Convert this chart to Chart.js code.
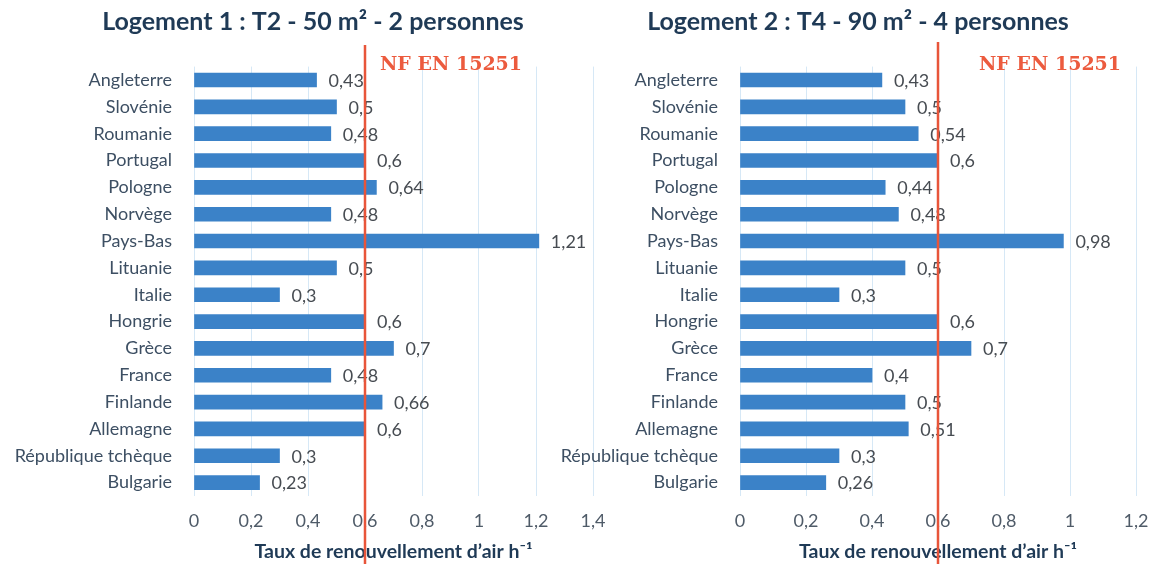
<!DOCTYPE html>
<html><head><meta charset="utf-8">
<script src="https://cdn.jsdelivr.net/npm/chart.js@4"></script>
<style>
html,body{margin:0;padding:0;background:#fff;width:1155px;height:564px;overflow:hidden;position:relative;}
canvas{position:absolute;top:0;}
#c1{left:0;}
#c2{left:550px;}
</style></head>
<body>
<canvas id="c1" width="620" height="564"></canvas>
<canvas id="c2" width="616" height="564"></canvas>
<script>
const countries = ["Angleterre","Slovénie","Roumanie","Portugal","Pologne","Norvège","Pays-Bas","Lituanie","Italie","Hongrie","Grèce","France","Finlande","Allemagne","République tchèque","Bulgarie"];
const logement1 = [0.43,0.5,0.48,0.6,0.64,0.48,1.21,0.5,0.3,0.6,0.7,0.48,0.66,0.6,0.3,0.23];
const logement2 = [0.43,0.5,0.54,0.6,0.44,0.48,0.98,0.5,0.3,0.6,0.7,0.4,0.5,0.51,0.3,0.26];
const titles = ["Logement 1 : T2 - 50 m² - 2 personnes","Logement 2 : T4 - 90 m² - 4 personnes"];
const normValue = [0.6];
const normLabel = "NF EN 15251";
const axisTitle = "Taux de renouvellement d’air h⁻¹";
const xMax = [1.4, 1.2];

const FONT = "Lato, 'Open Sans', sans-serif";
const fmt = v => String(v).replace('.', ',');

const overlay = {
  id:'overlay',
  afterDraw(chart, args, opts){
    const ctx = chart.ctx;
    ctx.save();
    ctx.font = "bold 25px " + FONT;
    ctx.fillStyle = '#1f3a56';
    ctx.textAlign = 'center';
    ctx.textBaseline = 'middle';
    ctx.fillText(opts.title, opts.titleX, 22);
    ctx.restore();
  },
  afterDatasetsDraw(chart, args, opts){
    const ctx = chart.ctx;
    const meta = chart.getDatasetMeta(0);
    const data = chart.data.datasets[0].data;
    ctx.save();
    ctx.font = "18px " + FONT;
    ctx.fillStyle = '#474c52';
    ctx.textBaseline = 'middle';
    ctx.textAlign = 'left';
    meta.data.forEach((bar, i) => {
      ctx.fillText(fmt(data[i]), bar.x + 12, bar.y + 1);
    });
    const x = chart.scales.x.getPixelForValue(normValue[0]);
    ctx.strokeStyle = '#e8553a';
    ctx.lineWidth = 2.5;
    ctx.beginPath();
    ctx.moveTo(x, opts.lineTop);
    ctx.lineTo(x, chart.height);
    ctx.stroke();
    ctx.font = "bold 19px 'DejaVu Serif', serif";
    ctx.fillStyle = '#ec5b3e';
    ctx.textBaseline = 'middle';
    ctx.fillText(normLabel, x + opts.labelOffset, 65);
    ctx.restore();
  }
};

function makeChart(id, values, title, max, titleX, yWidth, padRight, lineTop, labelOffset){
  return new Chart(document.getElementById(id), {
    type:'bar',
    data:{ labels: countries, datasets:[{ data: values,
      backgroundColor: (ctx) => {
        const el = ctx.element;
        if(!el || el.y === undefined) return '#3b82c8';
        const c = ctx.chart.ctx;
        const h = 14;
        const g = c.createLinearGradient(0, el.y - h/2, 0, el.y + h/2);
        g.addColorStop(0, '#5a9de0');
        g.addColorStop(0.5, '#3a82cc');
        g.addColorStop(1, '#2f71b8');
        return g;
      },
      borderWidth:0, barThickness:14 }] },
    options:{
      indexAxis:'y', responsive:false, animation:false,
      layout:{ padding:{ left:0, right:padRight, top:66.6, bottom:1 } },
      plugins:{
        legend:{display:false}, tooltip:{enabled:false}, title:{display:false},
        overlay:{ lineTop: lineTop, labelOffset: labelOffset, title: title, titleX: titleX }
      },
      scales:{
        x:{ min:0, max:max,
          ticks:{ stepSize:0.2, color:'#4f5b68', font:{family:FONT, size:18}, padding:14,
            callback: v => fmt(Math.round(v*10)/10) },
          grid:{ color:'#d6e8f6', drawTicks:false },
          border:{ display:false },
          title:{ display:true, text:axisTitle, color:'#1f3a56',
            font:{family:FONT, size:19.5, weight:'bold'}, padding:{top:-6, bottom:0} },
          afterFit: s => { s.paddingLeft = 0; s.paddingRight = 0; }
        },
        y:{
          ticks:{ color:'#3d4f63', font:{family:FONT, size:18}, padding:22 },
          grid:{ display:false, drawTicks:false },
          border:{ display:false },
          afterFit: s => { s.width = yWidth; }
        }
      }
    },
    plugins:[overlay]
  });
}

makeChart('c1', logement1, titles[0], xMax[0], 313, 194, 27, 45, 15);
makeChart('c2', logement2, titles[1], xMax[1], 308, 190, 30, 42, 41);
</script>
</body></html>
